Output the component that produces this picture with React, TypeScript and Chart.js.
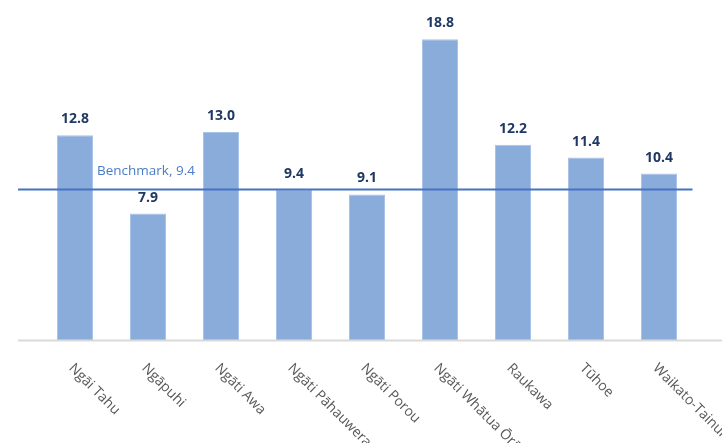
import React, { useEffect, useRef } from "react";
import { Chart, registerables } from "chart.js";

Chart.register(...registerables);

const categories = [
  "Ngāi Tahu",
  "Ngāpuhi",
  "Ngāti Awa",
  "Ngāti Pāhauwera",
  "Ngāti Porou",
  "Ngāti Whātua Ōrākei",
  "Raukawa",
  "Tūhoe",
  "Waikato-Tainui",
];
const values = [12.8, 7.9, 13.0, 9.4, 9.1, 18.8, 12.2, 11.4, 10.4];
const benchmarkValue = 9.4;
const benchmarkLabel = "Benchmark, 9.4";

const FONT = "'Open Sans', 'Noto Sans', sans-serif";

const overlayPlugin = {
  id: "overlay",
  afterDatasetsDraw(chart: any) {
    const { ctx, chartArea } = chart;
    const x = chart.scales.x;
    const y = chart.scales.y;
    const y0 = y.getPixelForValue(0);
    const yb = y.getPixelForValue(benchmarkValue);
    ctx.save();
    // baseline
    ctx.strokeStyle = "#d9d9d9";
    ctx.lineWidth = 2;
    ctx.beginPath();
    ctx.moveTo(chartArea.left - 20.5, y0 + 0.5);
    ctx.lineTo(chart.width, y0 + 0.5);
    ctx.stroke();
    // benchmark line
    ctx.strokeStyle = "#4472c4";
    ctx.lineWidth = 2;
    ctx.beginPath();
    ctx.moveTo(chartArea.left - 20.5, yb);
    ctx.lineTo(chartArea.right - 3, yb);
    ctx.stroke();
    // benchmark label
    ctx.fillStyle = "#4a7bc8";
    ctx.font = `13.5px ${FONT}`;
    ctx.textAlign = "left";
    ctx.textBaseline = "middle";
    ctx.fillText(benchmarkLabel, chartArea.left + 58.5, yb - 18);
    // value labels
    ctx.fillStyle = "#1f3864";
    ctx.font = `bold 14px ${FONT}`;
    ctx.textAlign = "center";
    ctx.textBaseline = "middle";
    values.forEach((v, i) => {
      const px = x.getPixelForValue(i);
      const py = y.getPixelForValue(v);
      ctx.fillText(v.toFixed(1), px, py - 16);
    });
    // rotated category labels
    ctx.fillStyle = "#595959";
    ctx.font = `14px ${FONT}`;
    ctx.textAlign = "left";
    ctx.textBaseline = "top";
    categories.forEach((c, i) => {
      const px = x.getPixelForValue(i);
      ctx.save();
      ctx.translate(px + 1, y0 + 21);
      ctx.rotate(Math.PI / 4);
      ctx.fillText(c, 0, 0);
      ctx.restore();
    });
    ctx.restore();
  },
};

export default function App() {
  const ref = useRef<HTMLCanvasElement>(null);
  useEffect(() => {
    document.body.style.margin = "0";
    const chart = new Chart(ref.current!, {
      type: "bar",
      data: {
        labels: categories,
        datasets: [
          {
            data: values,
            backgroundColor: "#8aacdb",
            borderColor: "#a9c2e8",
            borderWidth: 1,
            categoryPercentage: 1,
            barPercentage: 0.493,
          },
        ],
      },
      options: {
        animation: false,
        responsive: false,
        layout: { padding: { left: 38.5, right: 26.5, top: 20, bottom: 103 } },
        plugins: { legend: { display: false }, tooltip: { enabled: false } },
        scales: {
          x: { display: false, offset: true },
          y: { display: false, min: 0, max: 20 },
        },
      },
      plugins: [overlayPlugin],
    });
    return () => chart.destroy();
  }, []);
  return (
    <div style={{ width: 722, height: 443, background: "#fff" }}>
      <canvas ref={ref} width={722} height={443} style={{ display: "block" }} />
    </div>
  );
}
